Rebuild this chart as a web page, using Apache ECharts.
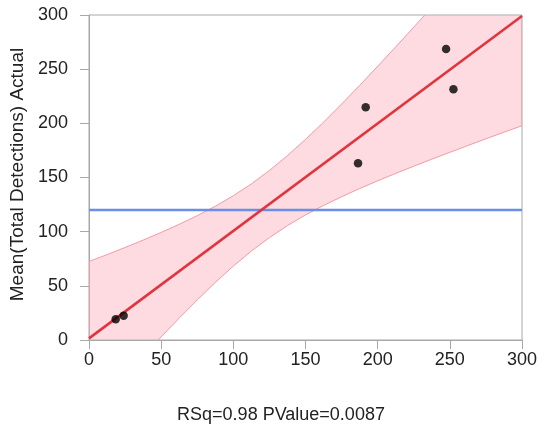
<!DOCTYPE html>
<html>
<head>
<meta charset="utf-8">
<script src="https://cdn.jsdelivr.net/npm/echarts@6/dist/echarts.min.js"></script>
<style>
html,body{margin:0;padding:0;background:#fff;}
#chart{width:560px;height:429px;}
</style>
</head>
<body>
<div id="chart"></div>
<script>
// points
var ptX = [18.5, 24, 186.4, 191.7, 247.4, 252.5];
var ptY = [19.1, 22.5, 163.1, 214.8, 268.6, 231.4];
// fit line ends
var fitX = [0, 300];
var fitY = [1.5, 299];
// confidence band (upper / lower edge)
var bandX = [0, 12.5, 25, 37.5, 50, 62.5, 75, 87.5, 100, 112.5, 125, 137.5, 150, 162.5, 175, 187.5, 200, 212.5, 225, 237.5, 250, 262.5, 275, 287.5, 300];
var bandUp = [72.5, 78.8, 85.4, 92.2, 99.3, 106.8, 114.8, 123.5, 133.2, 144.1, 156.5, 170.2, 185.2, 201.0, 217.8, 235.0, 252.7, 270.6, 288.8, 307.1, 325.6, 344.1, 362.7, 381.4, 400.2];
var bandLo = [-69.5, -51.0, -32.8, -14.8, 2.9, 20.2, 37.0, 53.1, 68.2, 82.1, 94.5, 105.6, 115.4, 124.2, 132.2, 139.8, 146.9, 153.8, 160.4, 166.9, 173.2, 179.5, 185.7, 191.8, 197.8];
var meanY = 120;
var ticks = [0, 50, 100, 150, 200, 250, 300];

var dom = document.getElementById("chart");
var myChart = echarts.init(dom);
var font='Liberation Sans, Arial';

var pts=[];
for(var i=0;i<ptX.length;i++){ pts.push([ptX[i],ptY[i]]); }

var axisCommon = {
	type:'value',
	min:ticks[0],
	max:ticks[ticks.length-1],
	interval:50,
	splitLine:{show:false},
	axisLine:{onZero:false,lineStyle:{color:'#a8a8a8',width:1}},
	axisTick:{show:true,length:9,lineStyle:{color:'#a8a8a8'}},
	axisLabel:{color:'#222',fontSize:18,fontFamily:font}
};

option = {
	backgroundColor:'#fff',
	animation:false,
	grid:{left:89,top:15,right:38,bottom:89,show:true,borderColor:'#a8a8a8',borderWidth:1},
	xAxis: echarts.util.merge({axisLabel:{margin:11}}, axisCommon, false),
	yAxis: echarts.util.merge({
		axisLabel:{margin:21},
		name:'Mean(Total Detections) Actual',
		nameLocation:'middle',
		nameGap:60,
		nameTextStyle:{color:'#222',fontSize:19,fontFamily:font,padding:[0,0,0,6]}
	}, axisCommon, false),
	graphic:[{
		type:'text',
		x:281,
		y:406,
		style:{text:'RSq=0.98 PValue=0.0087',fill:'#222',fontSize:18,fontFamily:font,align:'center',verticalAlign:'top'}
	}],
	series:[
		{
			type:'custom',
			clip:true,
			z:1,
			data:[0],
			renderItem:function(params,api){
				var poly=[];
				for(var i=0;i<bandX.length;i++){ poly.push(api.coord([bandX[i],bandUp[i]])); }
				for(var j=bandX.length-1;j>=0;j--){ poly.push(api.coord([bandX[j],bandLo[j]])); }
				var cs=params.coordSys;
				return {
					type:'polygon',
					shape:{points:poly},
					style:{fill:'rgba(250,170,180,0.42)',stroke:'#f29aa6',lineWidth:1},
					clipPath:{type:'rect',shape:{x:cs.x,y:cs.y,width:cs.width,height:cs.height}}
				};
			}
		},
		{
			type:'line',
			z:3,
			data:[[fitX[0],meanY],[fitX[1],meanY]],
			symbol:'none',
			lineStyle:{color:'#6a8fe4',width:2.5}
		},
		{
			type:'line',
			z:4,
			data:[[fitX[0],fitY[0]],[fitX[1],fitY[1]]],
			symbol:'none',
			lineStyle:{color:'#e0343f',width:2.5}
		},
		{
			type:'scatter',
			z:5,
			data:pts,
			symbolSize:8.5,
			itemStyle:{color:'#000'}
		}
	]
};
myChart.setOption(option);
</script>
</body>
</html>
